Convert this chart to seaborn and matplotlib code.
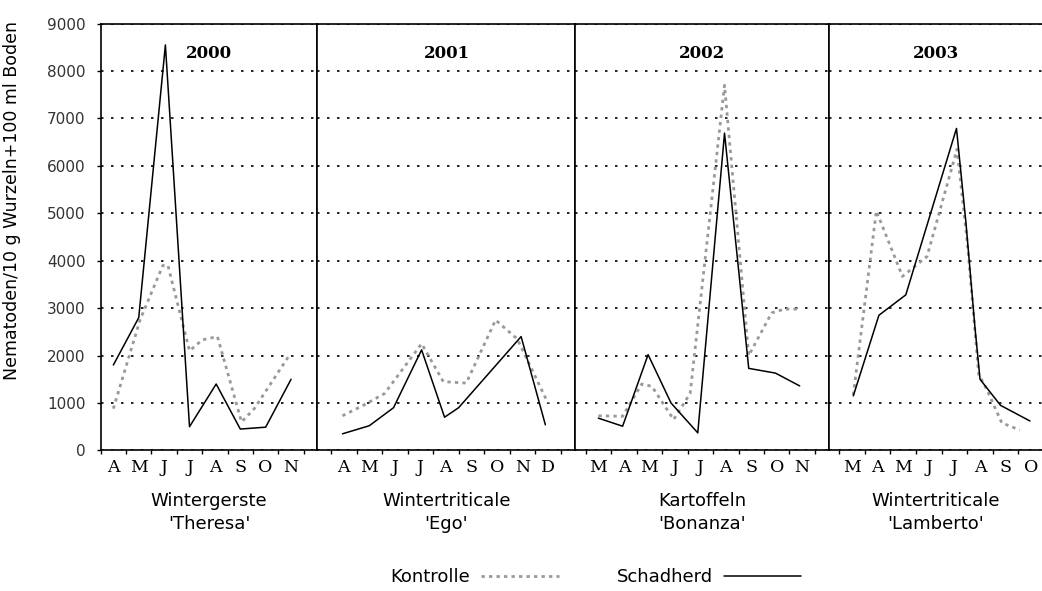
import matplotlib
matplotlib.use('Agg')
import matplotlib.pyplot as plt
from matplotlib.lines import Line2D
from matplotlib.ticker import MultipleLocator, FixedLocator, NullFormatter
import seaborn as sns
import pandas as pd

# panels (one per year)
years = ['2000', '2001', '2002', '2003']
crops = ["Wintergerste\n'Theresa'", "Wintertriticale\n'Ego'",
         "Kartoffeln\n'Bonanza'", "Wintertriticale\n'Lamberto'"]
month_labels = [list('AMJJASON'), list('AMJJASOND'),
                list('MAMJJASON'), list('MAMJJASO')]

# x = months since start of first labelled month of the panel
schad_2000_x = [0.5, 1.5, 2.55, 3.5, 4.55, 5.5, 6.5, 7.5]
schad_2000_y = [1800, 2800, 8550, 500, 1400, 450, 490, 1500]
kontr_2000_x = [0.5, 1.55, 2.45, 2.65, 3.5, 4.0, 4.6, 5.55, 6.05, 7.4]
kontr_2000_y = [880, 2750, 3900, 3900, 2100, 2330, 2400, 600, 880, 1980]

schad_2001_x = [0.45, 1.5, 2.45, 3.55, 4.45, 5.0, 7.45, 8.4]
schad_2001_y = [350, 520, 900, 2120, 700, 900, 2400, 540]
kontr_2001_x = [0.45, 1.3, 2.1, 3.55, 4.4, 5.3, 6.45, 7.3, 8.5]
kontr_2001_y = [730, 960, 1200, 2250, 1450, 1420, 2750, 2350, 1000]

schad_2002_x = [0.5, 1.45, 2.45, 3.35, 4.4, 5.45, 6.4, 7.45, 8.4]
schad_2002_y = [680, 510, 2020, 1000, 370, 6690, 1730, 1630, 1360]
kontr_2002_x = [0.5, 1.45, 2.2, 2.6, 3.45, 4.1, 5.45, 6.4, 7.3, 7.8, 8.45]
kontr_2002_y = [730, 720, 1400, 1350, 650, 1200, 7700, 2000, 2900, 2980, 2980]

schad_2003_x = [0.55, 1.55, 2.6, 4.58, 4.95, 5.3, 5.5, 6.3, 7.45]
schad_2003_y = [1150, 2850, 3280, 6790, 4800, 2600, 1500, 950, 620]
kontr_2003_x = [0.55, 1.45, 2.47, 3.43, 4.6, 5.0, 5.45, 5.75, 6.35, 7.05]
kontr_2003_y = [1170, 5050, 3670, 4090, 6350, 4400, 1600, 1300, 580, 430]

rows = []
for yr, sx, sy, kx, ky in [
        ('2000', schad_2000_x, schad_2000_y, kontr_2000_x, kontr_2000_y),
        ('2001', schad_2001_x, schad_2001_y, kontr_2001_x, kontr_2001_y),
        ('2002', schad_2002_x, schad_2002_y, kontr_2002_x, kontr_2002_y),
        ('2003', schad_2003_x, schad_2003_y, kontr_2003_x, kontr_2003_y)]:
    rows += [(yr, 'Schadherd', m, v) for m, v in zip(sx, sy)]
    rows += [(yr, 'Kontrolle', m, v) for m, v in zip(kx, ky)]
df = pd.DataFrame(rows, columns=['year', 'series', 'month', 'value'])

sns.set_theme(style='white')
plt.rcParams['font.family'] = ['DejaVu Sans']
plt.rcParams['text.color'] = 'black'
plt.rcParams['xtick.color'] = 'black'
plt.rcParams['ytick.color'] = 'black'

x_ranges = [(0, 8.54), (-0.53, 9.58), (-0.4, 9.57), (-0.38, 7.92)]
widths = [216.8, 258, 254, 212.5]
line_styles = {
    'Kontrolle': dict(color='#999999', linewidth=2.0, linestyle=(0, (1.2, 1.5))),
    'Schadherd': dict(color='black', linewidth=1.1, linestyle='-'),
}

fig, axes = plt.subplots(1, 4, figsize=(10.42, 5.91), dpi=100, sharey=True,
                         gridspec_kw={'width_ratios': widths, 'wspace': 0})
fig.subplots_adjust(left=0.0966, right=1.0, bottom=0.2379, top=0.960)

for i, ax in enumerate(axes):
    sub = df[df['year'] == years[i]]
    for name in ['Kontrolle', 'Schadherd']:
        s = sub[sub['series'] == name]
        sns.lineplot(x=s['month'].values, y=s['value'].values, ax=ax,
                     sort=False, estimator=None, **line_styles[name])
    ax.set_xlim(*x_ranges[i])
    ax.set_ylim(0, 9000)
    ax.yaxis.set_major_locator(MultipleLocator(1000))
    ax.grid(axis='y', color='black', linewidth=1.2, linestyle=(0, (1.5, 4.5)))
    ax.grid(axis='x', visible=False)
    ax.set_xlabel('')
    ax.set_ylabel('')

    labels = month_labels[i]
    ax.xaxis.set_major_locator(FixedLocator([k + 0.5 for k in range(len(labels))]))
    ax.set_xticklabels(labels, family='DejaVu Serif', fontsize=12.5)
    ax.xaxis.set_minor_locator(MultipleLocator(1))
    ax.xaxis.set_minor_formatter(NullFormatter())
    ax.tick_params(axis='x', which='major', length=0, pad=6, colors='black')
    ax.tick_params(axis='x', which='minor', bottom=True, direction='out',
                   length=3, width=1, color='black')

    for sp in ax.spines.values():
        sp.set_color('black')
        sp.set_linewidth(1.2)
    if i == 3:
        ax.spines['right'].set_visible(False)
    if i == 0:
        ax.tick_params(axis='y', left=True, direction='out', length=3, width=1,
                       color='black', pad=8, labelsize=11, labelcolor='#333333')
    else:
        ax.tick_params(axis='y', left=False)

    ax.text(0.5, 0.93, years[i], transform=ax.transAxes, ha='center', va='center',
            family='DejaVu Serif', fontweight='bold', fontsize=12)
    ax.text(0.5, -0.098, crops[i], transform=ax.transAxes, ha='center', va='top',
            fontsize=13, linespacing=1.35)

fig.text(0.0115, 1 - 201 / 591, 'Nematoden/10 g Wurzeln+100 ml Boden',
         rotation=90, ha='center', va='center', fontsize=12.5)

handles = [Line2D([], [], **line_styles['Kontrolle']),
           Line2D([], [], **line_styles['Schadherd'])]
fig.legend(handles, ['Kontrolle', 'Schadherd'], ncol=2, markerfirst=False,
           frameon=False, loc='center', bbox_to_anchor=(596 / 1042, 1 - 577 / 591),
           fontsize=13, handlelength=4.3, handletextpad=0.6, columnspacing=3.2)

plt.savefig('out.png', dpi=100)
